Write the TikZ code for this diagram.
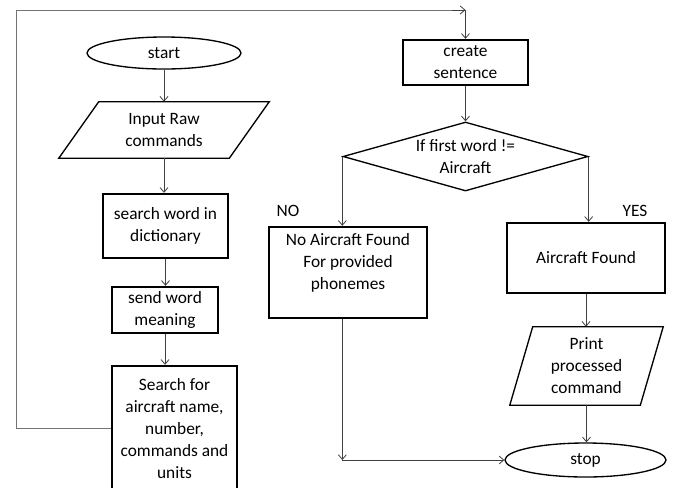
\documentclass[tikz,border=0pt]{standalone}
\usepackage{fontspec}
\setmainfont{Carlito}
\usetikzlibrary{shapes.geometric,arrows.meta}
\begin{document}
\begin{tikzpicture}[x=0.75pt,y=-0.75pt,
  every node/.style={font=\fontsize{13pt}{16.5pt}\selectfont, align=center, inner sep=0pt},
  proc/.style={draw, line width=1.8pt},
  term/.style={draw, ellipse, line width=1pt},
  iobody/.style={},
  ioline/.style={draw, line width=1pt, line join=miter},
  decision/.style={draw, diamond, line width=1pt},
  conn/.style={draw=black!75, line width=0.6pt, -{Straight Barb[length=3.5pt,width=6pt]}},
  loopline/.style={draw=black!55, line width=0.6pt},
  lbl/.style={font=\fontsize{13pt}{16.5pt}\selectfont}
]
\fill[white] (0,0) rectangle (675,487);
\useasboundingbox (0,0) rectangle (675,487);
\clip (0,0) rectangle (675,487);

% left column
\node[term, minimum width=115.5pt, minimum height=24pt] (start) at (164,53) {start};
\node[iobody, minimum width=127.5pt, minimum height=42pt] (input) at (164,130) {Input Raw\\commands};
\draw[ioline] ([xshift=15pt]input.north west) -- ([xshift=15pt]input.north east)
  -- ([xshift=-15pt]input.south east) -- ([xshift=-15pt]input.south west) -- cycle;
\node[proc, minimum width=93.75pt, minimum height=48pt] (search) at (165.5,226) {search word in\\dictionary};
\node[proc, minimum width=79.5pt, minimum height=34.5pt] (send) at (165,310) {send word\\meaning};
\node[proc, minimum width=93.75pt, minimum height=93.75pt] (searchfor) at (174.5,428.5) {Search for\\aircraft name,\\number,\\commands and\\units};

% right column
\node[proc, minimum width=93.75pt, minimum height=33.75pt] (create) at (465.5,62.5) {create\\sentence};
\node[decision, minimum width=183.75pt, minimum height=51.75pt,
  label={[align=center]center:If first word !=\\Aircraft}] (dec) at (465.5,156.5) {};
\node[proc, minimum width=118.5pt, minimum height=68.25pt,
  label={[align=center,yshift=7.5pt]center:No Aircraft Found\\For provided\\phonemes}] (no) at (348,272.5) {};
\node[proc, minimum width=118.5pt, minimum height=52.5pt] (yes) at (586,258) {Aircraft Found};
\node[iobody, minimum width=97.5pt, minimum height=58.5pt] (print) at (586.5,366) {Print\\processed\\command};
\draw[ioline] ([xshift=8.6pt]print.north west) -- ([xshift=8.6pt]print.north east)
  -- ([xshift=-8.6pt]print.south east) -- ([xshift=-8.6pt]print.south west) -- cycle;
\node[term, minimum width=120.75pt, minimum height=25.5pt] (stop) at (585.5,460) {stop};

\node[lbl] (nolbl) at (288,211) {NO};
\node[lbl] (yeslbl) at (635,211) {YES};

% connectors
\draw[conn] (start.south) -- (input.north);
\draw[conn] (input.south) -- (input.south |- search.north);
\draw[conn] (search.south) -- (search.south |- send.north);
\draw[conn] (send.south) -- (send.south |- searchfor.north);

\coordinate (loopL) at (16,10);
\coordinate (loopR) at (create.north |- loopL);
\draw[loopline] (searchfor.west) -| (loopL) -- (loopR);
\draw[conn] ([xshift=-10pt]loopR) -- (loopR);
\draw[conn] (loopR) -- (create.north);

\draw[conn] (create.south) -- (dec.north);
\draw[conn] (dec.west) -- (dec.west |- no.north);
\draw[conn] (dec.east) -- (dec.east |- yes.north);
\draw[conn] (yes.south) -- (yes.south |- print.north);
\draw[conn] (print.south) -- (print.south |- stop.north);

\coordinate (corner) at (dec.west |- stop.west);
\draw[conn] (dec.west |- no.south) -- (corner);
\draw[conn] (corner) -- (stop.west);
\end{tikzpicture}
\end{document}
